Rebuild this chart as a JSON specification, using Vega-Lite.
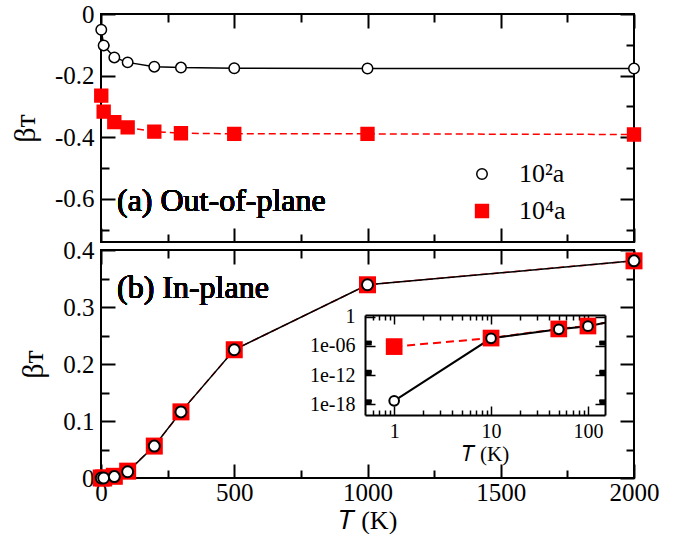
{
  "$schema": "https://vega.github.io/schema/vega-lite/v6.json",
  "padding": {"left": 9, "top": 1, "right": 5, "bottom": 0},
  "background": "white",
  "datasets": {
    "d": [
      {"T": 1, "s": "10⁴a", "a": -0.265, "b": 7e-7},
      {"T": 10, "s": "10⁴a", "a": -0.317, "b": 4e-5},
      {"T": 50, "s": "10⁴a", "a": -0.351, "b": 0.003},
      {"T": 100, "s": "10⁴a", "a": -0.368, "b": 0.012},
      {"T": 200, "s": "10⁴a", "a": -0.382, "b": 0.056},
      {"T": 300, "s": "10⁴a", "a": -0.387, "b": 0.116},
      {"T": 500, "s": "10⁴a", "a": -0.389, "b": 0.225},
      {"T": 1000, "s": "10⁴a", "a": -0.389, "b": 0.339},
      {"T": 2000, "s": "10⁴a", "a": -0.391, "b": 0.381},
      {"T": 1, "s": "10²a", "a": -0.051, "b": 5e-18},
      {"T": 10, "s": "10²a", "a": -0.102, "b": 3.5e-5},
      {"T": 50, "s": "10²a", "a": -0.141, "b": 0.0025},
      {"T": 100, "s": "10²a", "a": -0.157, "b": 0.011},
      {"T": 200, "s": "10²a", "a": -0.171, "b": 0.056},
      {"T": 300, "s": "10²a", "a": -0.174, "b": 0.116},
      {"T": 500, "s": "10²a", "a": -0.176, "b": 0.225},
      {"T": 1000, "s": "10²a", "a": -0.177, "b": 0.339},
      {"T": 2000, "s": "10²a", "a": -0.177, "b": 0.381}
    ]
  },
  "data": {"name": "d"},
  "bounds": "flush",
  "spacing": 8,
  "vconcat": [
    {
      "width": 533,
      "height": 228,
      "layer": [
        {
          "transform": [{"filter": "datum.s == '10²a'"}],
          "mark": {"type": "line", "strokeWidth": 1.5, "color": "black"},
          "encoding": {
            "x": {"field": "T", "type": "quantitative", "scale": {"domain": [0, 2000], "nice": false, "zero": false},
              "axis": {"orient": "bottom", "values": [0, 250, 500, 750, 1000, 1250, 1500, 1750, 2000], "labels": false, "title": null,
                "tickSize": {"condition": {"test": "datum.value % 500 == 0", "value": -14}, "value": -8}}},
            "y": {"field": "a", "type": "quantitative", "scale": {"domain": [-0.74, 0], "nice": false, "zero": false},
              "axis": {"orient": "left", "values": [0, -0.1, -0.2, -0.3, -0.4, -0.5, -0.6, -0.7],
                "tickSize": {"condition": {"test": "round(datum.value*10) % 2 == 0", "value": -14}, "value": -8},
                "labelExpr": "round(datum.value*10) % 2 == 0 ? (datum.value == 0 ? '0' : '-' + format(-datum.value, '.1f')) : ''",
                "labelFont": "Liberation Serif", "labelFontSize": 25,
                "labelPadding": 21, "title": "βᴛ", "titleFont": "Liberation Serif", "titleFontSize": 30, "titlePadding": 14}}
          }
        },
        {
          "transform": [{"filter": "datum.s == '10⁴a'"}],
          "mark": {"type": "line", "strokeWidth": 1.5, "color": "red", "strokeDash": [7, 4]},
          "encoding": {
            "x": {"field": "T", "type": "quantitative", "axis": null},
            "y": {"field": "a", "type": "quantitative", "axis": null}
          }
        },
        {
          "mark": {"type": "point", "filled": true, "strokeWidth": 1.5, "opacity": 1},
          "encoding": {
            "x": {"field": "T", "type": "quantitative", "scale": {"domain": [0, 2000], "nice": false, "zero": false},
              "axis": {"orient": "top", "values": [0, 250, 500, 750, 1000, 1250, 1500, 1750, 2000], "labels": false, "title": null,
                "tickSize": {"condition": {"test": "datum.value % 500 == 0", "value": -14}, "value": -8}}},
            "y": {"field": "a", "type": "quantitative", "scale": {"domain": [-0.74, 0], "nice": false, "zero": false},
              "axis": {"orient": "right", "values": [0, -0.1, -0.2, -0.3, -0.4, -0.5, -0.6, -0.7], "labels": false, "title": null,
                "tickSize": {"condition": {"test": "round(datum.value*10) % 2 == 0", "value": -14}, "value": -8}}},
            "shape": {"field": "s", "type": "nominal", "scale": {"domain": ["10²a", "10⁴a"], "range": ["circle", "square"]},
              "legend": {"orient": "none", "legendX": 368, "legendY": 147, "title": null, "labelFontSize": 26, "labelFont": "Liberation Serif", "labelOffset": 24, "rowPadding": 11, "symbolStrokeWidth": 1.5, "padding": 0}},
            "fill": {"field": "s", "type": "nominal", "scale": {"domain": ["10²a", "10⁴a"], "range": ["white", "red"]},
              "legend": {"orient": "none", "legendX": 368, "legendY": 147, "title": null, "labelFontSize": 26, "labelFont": "Liberation Serif", "labelOffset": 24, "rowPadding": 11, "symbolStrokeWidth": 1.5, "padding": 0}},
            "stroke": {"field": "s", "type": "nominal", "scale": {"domain": ["10²a", "10⁴a"], "range": ["black", "red"]},
              "legend": {"orient": "none", "legendX": 368, "legendY": 147, "title": null, "labelFontSize": 26, "labelFont": "Liberation Serif", "labelOffset": 24, "rowPadding": 11, "symbolStrokeWidth": 1.5, "padding": 0}},
            "size": {"field": "s", "type": "nominal", "scale": {"domain": ["10²a", "10⁴a"], "range": [110, 165]},
              "legend": {"orient": "none", "legendX": 368, "legendY": 147, "title": null, "labelFontSize": 26, "labelFont": "Liberation Serif", "labelOffset": 24, "rowPadding": 11, "symbolStrokeWidth": 1.5, "padding": 0}}
          }
        },
        {
          "mark": {"type": "text", "text": "(a) Out-of-plane", "align": "left", "baseline": "alphabetic", "fontSize": 32, "fontWeight": "normal", "font": "Liberation Serif", "fill": "black", "strokeWidth": 0},
          "encoding": {
            "x": {"datum": 60, "type": "quantitative", "axis": null},
            "y": {"datum": -0.641, "type": "quantitative", "axis": null}
          }
        }
      ],
      "resolve": {"axis": {"x": "independent", "y": "independent"}}
    },
    {
      "width": 533,
      "height": 228,
      "layer": [
        {
          "layer": [
            {
              "transform": [{"filter": "datum.s == '10⁴a'"}],
              "mark": {"type": "line", "strokeWidth": 1.5, "color": "red", "strokeDash": [7, 4]},
              "encoding": {
                "x": {"field": "T", "type": "quantitative", "scale": {"domain": [0, 2000], "nice": false, "zero": false},
                  "axis": {"orient": "bottom", "values": [0, 250, 500, 750, 1000, 1250, 1500, 1750, 2000],
                    "tickSize": {"condition": {"test": "datum.value % 500 == 0", "value": -14}, "value": -8},
                    "labelExpr": "datum.value % 500 == 0 ? format(datum.value, 'd') : ''",
                    "labelFont": "Liberation Serif", "labelFontSize": 25,
                    "labelPadding": 16, "title": "𝑇 (K)", "titleFont": "Liberation Serif", "titleFontSize": 26, "titlePadding": -4}},
                "y": {"field": "b", "type": "quantitative", "scale": {"domain": [0, 0.4], "nice": false, "zero": false},
                  "axis": {"orient": "left", "values": [0, 0.05, 0.1, 0.15, 0.2, 0.25, 0.3, 0.35, 0.4],
                    "tickSize": {"condition": {"test": "round(datum.value*20) % 2 == 0", "value": -14}, "value": -8},
                    "labelExpr": "round(datum.value*20) % 2 == 0 ? (datum.value == 0 ? '0' : format(datum.value, '.1f')) : ''",
                    "labelFont": "Liberation Serif", "labelFontSize": 25,
                    "labelPadding": 21, "title": "βᴛ", "titleFont": "Liberation Serif", "titleFontSize": 30, "titlePadding": 14}}
              }
            },
            {
              "transform": [{"filter": "datum.s == '10²a'"}],
              "mark": {"type": "line", "strokeWidth": 1.5, "color": "black"},
              "encoding": {
                "x": {"field": "T", "type": "quantitative", "scale": {"domain": [0, 2000], "nice": false, "zero": false},
                  "axis": {"orient": "top", "values": [0, 250, 500, 750, 1000, 1250, 1500, 1750, 2000], "labels": false, "title": null,
                    "tickSize": {"condition": {"test": "datum.value % 500 == 0", "value": -14}, "value": -8}}},
                "y": {"field": "b", "type": "quantitative", "scale": {"domain": [0, 0.4], "nice": false, "zero": false},
                  "axis": {"orient": "right", "values": [0, 0.05, 0.1, 0.15, 0.2, 0.25, 0.3, 0.35, 0.4], "labels": false, "title": null,
                    "tickSize": {"condition": {"test": "round(datum.value*20) % 2 == 0", "value": -14}, "value": -8}}}
              }
            },
            {
              "transform": [{"filter": "datum.s == '10⁴a'"}],
              "mark": {"type": "point", "shape": "square", "size": 289, "filled": true, "color": "red", "opacity": 1},
              "encoding": {
                "x": {"field": "T", "type": "quantitative", "axis": null},
                "y": {"field": "b", "type": "quantitative", "axis": null}
              }
            },
            {
              "transform": [{"filter": "datum.s == '10²a'"}],
              "mark": {"type": "point", "shape": "circle", "size": 121, "filled": true, "fill": "white", "stroke": "black", "strokeWidth": 2, "opacity": 1},
              "encoding": {
                "x": {"field": "T", "type": "quantitative", "axis": null},
                "y": {"field": "b", "type": "quantitative", "axis": null}
              }
            },
            {
              "mark": {"type": "text", "text": "(b) In-plane", "align": "left", "baseline": "alphabetic", "fontSize": 32, "fontWeight": "normal", "font": "Liberation Serif", "fill": "black", "strokeWidth": 0},
              "encoding": {
                "x": {"datum": 60, "type": "quantitative", "axis": null},
                "y": {"datum": 0.315, "type": "quantitative", "axis": null}
              }
            }
          ],
          "resolve": {"axis": {"x": "independent", "y": "independent"}}
        },
        {
          "layer": [
            {
              "transform": [{"filter": "datum.s == '10⁴a' && datum.T <= 200"}],
              "mark": {"type": "line", "strokeWidth": 2, "color": "red", "strokeDash": [8, 5]},
              "encoding": {
                "x": {"field": "T", "type": "quantitative", "scale": {"type": "log", "domain": [0.5, 150], "range": [264, 504], "nice": false, "clamp": true},
                  "axis": {"orient": "bottom", "offset": -63, "values": [0.6, 0.7, 0.8, 0.9, 1, 2, 3, 4, 5, 6, 7, 8, 9, 10, 20, 30, 40, 50, 60, 70, 80, 90, 100],
                    "domain": true, "domainColor": "black", "domainWidth": 2, "tickWidth": 1.5,
                    "tickSize": {"condition": {"test": "datum.value == 1 || datum.value == 10 || datum.value == 100", "value": -9}, "value": -5},
                    "labelExpr": "(datum.value == 1 || datum.value == 10 || datum.value == 100) ? format(datum.value, 'd') : ''",
                    "labelFont": "Liberation Serif", "labelFontSize": 20, "labelPadding": 15, "title": "𝑇 (K)", "titleFont": "Liberation Serif", "titleFontSize": 21, "titlePadding": -2}},
                "y": {"field": "b", "type": "quantitative", "scale": {"type": "log", "domain": [6e-21, 2.2], "range": [165, 65], "nice": false},
                  "axis": {"orient": "left", "offset": -264, "values": [1e-18, 2e-18, 3e-18, 4e-18, 5e-18, 6e-18, 7e-18, 8e-18, 9e-18, 1e-12, 2e-12, 3e-12, 4e-12, 5e-12, 6e-12, 7e-12, 8e-12, 9e-12, 1e-6, 2e-6, 3e-6, 4e-6, 5e-6, 6e-6, 7e-6, 8e-6, 9e-6, 1],
                    "domain": true, "domainColor": "black", "domainWidth": 2, "tickWidth": 1.5,
                    "tickSize": {"condition": {"test": "abs(log(datum.value)/LN10 - round(log(datum.value)/LN10)) < 0.001", "value": -10}, "value": -6},
                    "labelExpr": "abs(log(datum.value)/LN10 - round(log(datum.value)/LN10)) < 0.001 ? (datum.value > 0.5 ? '1' : '1e-' + (round(-log(datum.value)/LN10) < 10 ? '0' : '') + round(-log(datum.value)/LN10)) : ''",
                    "labelFont": "Liberation Serif", "labelFontSize": 20, "labelPadding": 20, "title": null}}
              }
            },
            {
              "transform": [{"filter": "datum.s == '10²a' && datum.T <= 200"}],
              "mark": {"type": "line", "strokeWidth": 2, "color": "black"},
              "encoding": {
                "x": {"field": "T", "type": "quantitative", "scale": {"type": "log", "domain": [0.5, 150], "range": [264, 504], "nice": false, "clamp": true},
                  "axis": {"orient": "top", "offset": -65, "values": [0.6, 0.7, 0.8, 0.9, 1, 2, 3, 4, 5, 6, 7, 8, 9, 10, 20, 30, 40, 50, 60, 70, 80, 90, 100],
                    "domain": true, "domainColor": "black", "domainWidth": 2, "tickWidth": 1.5, "labels": false, "title": null,
                    "tickSize": {"condition": {"test": "datum.value == 1 || datum.value == 10 || datum.value == 100", "value": -9}, "value": -5}}},
                "y": {"field": "b", "type": "quantitative", "scale": {"type": "log", "domain": [6e-21, 2.2], "range": [165, 65], "nice": false},
                  "axis": {"orient": "right", "offset": -29, "values": [1e-18, 2e-18, 3e-18, 4e-18, 5e-18, 6e-18, 7e-18, 8e-18, 9e-18, 1e-12, 2e-12, 3e-12, 4e-12, 5e-12, 6e-12, 7e-12, 8e-12, 9e-12, 1e-6, 2e-6, 3e-6, 4e-6, 5e-6, 6e-6, 7e-6, 8e-6, 9e-6, 1],
                    "domain": true, "domainColor": "black", "domainWidth": 2, "tickWidth": 1.5, "labels": false, "title": null,
                    "tickSize": {"condition": {"test": "abs(log(datum.value)/LN10 - round(log(datum.value)/LN10)) < 0.001", "value": -10}, "value": -6}}}
              }
            },
            {
              "transform": [{"filter": "datum.s == '10⁴a' && datum.T <= 100"}],
              "mark": {"type": "point", "shape": "square", "size": 279, "filled": true, "color": "red", "opacity": 1},
              "encoding": {
                "x": {"field": "T", "type": "quantitative", "axis": null},
                "y": {"field": "b", "type": "quantitative", "axis": null}
              }
            },
            {
              "transform": [{"filter": "datum.s == '10²a' && datum.T <= 100"}],
              "mark": {"type": "point", "shape": "circle", "size": 94, "filled": true, "fill": "white", "stroke": "black", "strokeWidth": 2, "opacity": 1},
              "encoding": {
                "x": {"field": "T", "type": "quantitative", "axis": null},
                "y": {"field": "b", "type": "quantitative", "axis": null}
              }
            }
          ],
          "resolve": {"axis": {"x": "independent", "y": "independent"}}
        }
      ],
      "resolve": {"scale": {"x": "independent", "y": "independent"}, "axis": {"x": "independent", "y": "independent"}}
    }
  ],
  "config": {
    "font": "Liberation Serif",
    "view": {"stroke": "black", "strokeWidth": 2},
    "axis": {"grid": false, "domain": false, "labelFont": "Liberation Serif", "titleFont": "Liberation Serif", "labelFontSize": 25, "titleFontSize": 26, "titleFontWeight": "normal", "labelColor": "black", "titleColor": "black", "tickColor": "black", "tickWidth": 2, "labelFlush": false, "labelOverlap": false, "labelBound": false},
    "legend": {"labelFont": "Liberation Serif"},
    "text": {"font": "Liberation Serif"}
  }
}
